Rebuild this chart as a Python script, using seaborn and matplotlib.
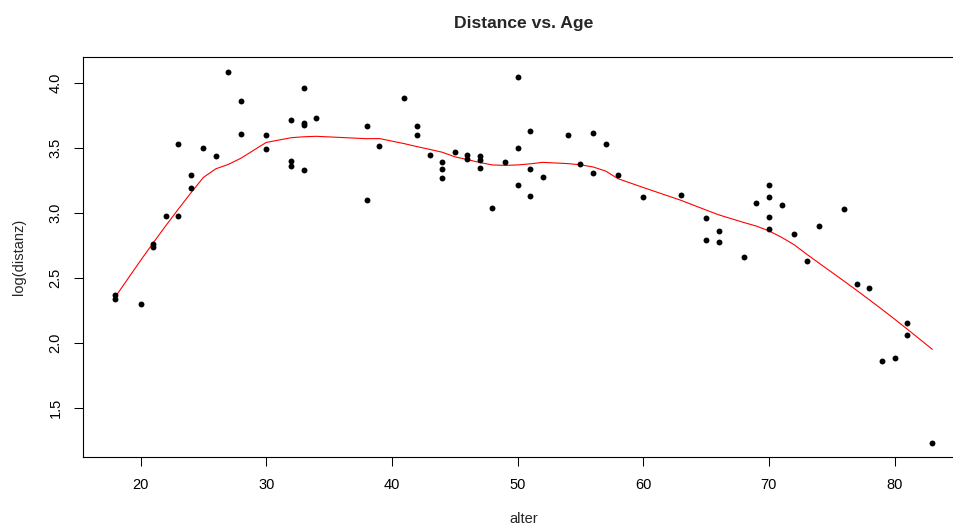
import numpy as np
import pandas as pd
import matplotlib
matplotlib.use("Agg")
import matplotlib.pyplot as plt
import seaborn as sns

# Age of each respondent and the log of the distance travelled
alter = [18, 18, 20, 21, 21, 22, 23, 23, 24, 24, 25, 26, 27, 28, 28, 30, 30,
         32, 32, 32, 33, 33, 33, 33, 34, 38, 38, 39, 41, 42, 42, 43, 44, 44, 44,
         45, 46, 46, 47, 47, 47, 48, 49, 50, 50, 50, 51, 51, 51, 52, 54, 55,
         56, 56, 57, 58, 60, 63, 65, 65, 66, 66, 68, 69, 70, 70, 70, 70, 71,
         72, 73, 74, 76, 77, 78, 79, 80, 81, 81, 83]
log_distanz = [2.37, 2.34, 2.30, 2.76, 2.74, 2.98, 2.98, 3.53, 3.29, 3.19,
               3.50, 3.44, 4.09, 3.86, 3.61, 3.60, 3.49, 3.72, 3.40, 3.36,
               3.96, 3.69, 3.68, 3.33, 3.73, 3.67, 3.10, 3.52, 3.89, 3.67,
               3.60, 3.45, 3.39, 3.34, 3.27, 3.47, 3.45, 3.42, 3.44, 3.41,
               3.35, 3.04, 3.39, 4.05, 3.50, 3.22, 3.63, 3.34, 3.13, 3.28,
               3.60, 3.38, 3.62, 3.31, 3.53, 3.29, 3.12, 3.14, 2.96, 2.79,
               2.86, 2.78, 2.66, 3.08, 3.22, 3.12, 2.97, 2.88, 3.06, 2.84,
               2.63, 2.90, 3.03, 2.45, 2.42, 1.86, 1.88, 2.15, 2.06, 1.23]

x_ticks = [20, 30, 40, 50, 60, 70, 80]
y_ticks = [1.5, 2.0, 2.5, 3.0, 3.5, 4.0]

SMOOTHER_SPAN = 0.3


def lowess(x, y, f=2 / 3, iters=3):
    """Cleveland's robust locally weighted regression (as in R's lowess)."""
    order = np.argsort(x, kind="mergesort")
    x = np.asarray(x, float)[order]
    y = np.asarray(y, float)[order]
    n = len(x)
    ns = max(min(int(f * n + 1e-7), n), 2)
    xrange = x[-1] - x[0]
    idx = np.arange(n)
    rw = np.ones(n)
    ys = np.empty(n)
    for it in range(iters + 1):
        nleft, nright = 0, ns - 1
        for i in range(n):
            xi = x[i]
            while nright < n - 1 and xi - x[nleft] > x[nright + 1] - xi:
                nleft += 1
                nright += 1
            h = max(xi - x[nleft], x[nright] - xi)
            h9, h1 = 0.999 * h, 0.001 * h
            d = np.abs(x - xi)
            with np.errstate(divide="ignore", invalid="ignore"):
                w = np.where(d <= h1, 1.0, (1 - (d / h) ** 3) ** 3) if h > 0 else np.ones(n)
            w = np.where((d <= h9) & (idx >= nleft), w, 0.0) * rw
            sw = w.sum()
            if sw <= 0:
                ys[i] = y[i]
                continue
            w = w / sw
            if h > 0:
                a = np.sum(w * x)
                c = np.sum(w * (x - a) ** 2)
                if np.sqrt(c) > 0.001 * xrange:
                    b = (xi - a) / c
                    w = w * (b * (x - a) + 1)
            ys[i] = np.sum(w * y)
        if it == iters:
            break
        res = y - ys
        cmad = 6 * np.median(np.abs(res))
        if cmad < 1e-7 * np.mean(np.abs(res)):
            break
        r = np.abs(res) / cmad
        rw = np.where(r <= 0.001, 1.0, np.where(r <= 0.999, (1 - r ** 2) ** 2, 0.0))
    return x, ys


df = pd.DataFrame({"alter": alter, "log_distanz": log_distanz})
smooth_x, smooth_y = lowess(df["alter"].values, df["log_distanz"].values,
                            f=SMOOTHER_SPAN)

sns.set_style("ticks")
plt.rcParams["font.family"] = ["Liberation Sans", "DejaVu Sans"]

fig = plt.figure(figsize=(9.54, 5.27), dpi=100)
ax = fig.add_axes([82.7 / 954, 1 - 456.7 / 527, (965 - 82.7) / 954, (456.7 - 57.3) / 527])

sns.scatterplot(data=df, x="alter", y="log_distanz", ax=ax, color="black",
                s=18, linewidth=0, zorder=3)
sns.lineplot(x=smooth_x, y=smooth_y, ax=ax, color="red", linewidth=0.8,
             estimator=None, sort=False, zorder=2)

ax.set_xlim(15.4, 85.6)
ax.set_ylim(1.123, 4.20)
ax.set_xticks(x_ticks)
ax.set_xticklabels([str(t) for t in x_ticks])
ax.set_yticks(y_ticks)
ax.set_yticklabels([f"{t:.1f}" for t in y_ticks], rotation=90, va="center")
for sp in ax.spines.values():
    sp.set_linewidth(0.8)
    sp.set_color("black")
ax.tick_params(axis="both", length=6.5, width=0.75, colors="black",
               labelsize=10.5)
ax.tick_params(axis="x", pad=9)
ax.tick_params(axis="y", pad=8)
ax.set_xlabel("alter", fontsize=10.5, labelpad=14)
ax.set_ylabel("log(distanz)", fontsize=10.5, labelpad=16)
ax.set_title("Distance vs. Age", fontsize=12.6, fontweight="bold", pad=21)

fig.savefig("out.png", dpi=100)
